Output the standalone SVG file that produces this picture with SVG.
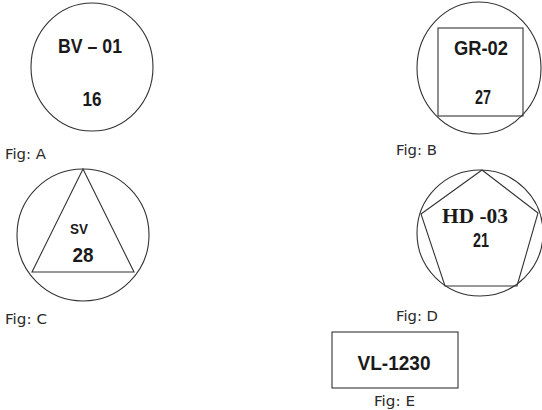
<svg xmlns="http://www.w3.org/2000/svg" width="542" height="410" viewBox="0 0 542 410">
<style>
.sh{fill:none;stroke:#333;stroke-width:1.1}
.t{font-family:"Liberation Sans",Arial,sans-serif;font-weight:bold;fill:#1a1a1a;text-anchor:middle}
.ts{font-family:"Liberation Serif","Times New Roman",serif;font-weight:bold;fill:#1a1a1a;text-anchor:middle}
.f{font-family:"DejaVu Sans",Verdana,sans-serif;font-size:14px;fill:#2a2a2a}
</style>
<rect width="542" height="410" fill="#fff"/>
<g id="figA">
<ellipse class="sh" cx="92" cy="67" rx="61" ry="64"/>
<text class="t" x="90" y="53" font-size="20" textLength="64" lengthAdjust="spacingAndGlyphs">BV – 01</text>
<text class="t" x="92" y="106" font-size="20" textLength="19" lengthAdjust="spacingAndGlyphs">16</text>
<text class="f" x="5" y="159" textLength="41" lengthAdjust="spacingAndGlyphs">Fig: A</text>
</g>
<g id="figB">
<ellipse class="sh" cx="479" cy="68" rx="62" ry="66"/>
<rect class="sh" x="438" y="28" width="85" height="88"/>
<text class="t" x="481" y="55" font-size="20" textLength="54" lengthAdjust="spacingAndGlyphs">GR-02</text>
<text class="t" x="483" y="104" font-size="20" textLength="16" lengthAdjust="spacingAndGlyphs">27</text>
<text class="f" x="396" y="155" textLength="41" lengthAdjust="spacingAndGlyphs">Fig: B</text>
</g>
<g id="figC">
<circle class="sh" cx="83" cy="235" r="66"/>
<polygon class="sh" points="83,169 134,272 32,272"/>
<text class="t" x="79" y="234" font-size="14" textLength="18" lengthAdjust="spacingAndGlyphs">SV</text>
<text class="t" x="83" y="262" font-size="21" textLength="21" lengthAdjust="spacingAndGlyphs">28</text>
<text class="f" x="5" y="324" textLength="42" lengthAdjust="spacingAndGlyphs">Fig: C</text>
</g>
<g id="figD">
<circle class="sh" cx="480" cy="233" r="63"/>
<polygon class="sh" points="482,170 538,213 517,286 445,286 421,214"/>
<text class="ts" x="475" y="223" font-size="21" textLength="66" lengthAdjust="spacingAndGlyphs">HD -03</text>
<text class="t" x="481" y="247" font-size="20" textLength="16" lengthAdjust="spacingAndGlyphs">21</text>
<text class="f" x="396" y="321" textLength="42" lengthAdjust="spacingAndGlyphs">Fig: D</text>
</g>
<g id="figE">
<rect class="sh" x="332" y="332" width="126" height="56"/>
<text class="t" x="394" y="370" font-size="21" textLength="73" lengthAdjust="spacingAndGlyphs">VL-1230</text>
<text class="f" x="374" y="406" textLength="41" lengthAdjust="spacingAndGlyphs">Fig: E</text>
</g>
<g id="connectors"/>
</svg>
